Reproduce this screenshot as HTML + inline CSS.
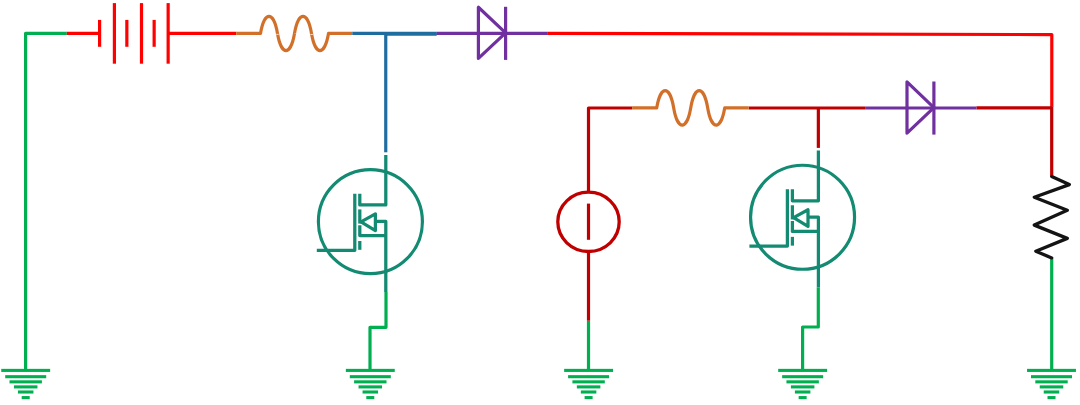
<!DOCTYPE html>
<html><head><meta charset="utf-8"><title>circuit</title>
<style>
html,body{margin:0;padding:0;background:#ffffff;width:1080px;height:405px;overflow:hidden;font-family:"Liberation Sans",sans-serif;}
svg{display:block}
</style></head><body>
<svg width="1080" height="405" viewBox="0 0 1080 405" fill="none">
<path d="M66.80,33.30 L25.60,33.30 L25.60,370.00" stroke="#00B050" stroke-width="3.2" stroke-linejoin="round" stroke-linecap="butt"/>
<rect x="1.25" y="368.85" width="48.90" height="3.1" fill="#00B050" stroke="none"/>
<rect x="5.20" y="375.15" width="41.00" height="3.1" fill="#00B050" stroke="none"/>
<rect x="9.50" y="380.30" width="32.40" height="3.1" fill="#00B050" stroke="none"/>
<rect x="13.95" y="385.35" width="23.50" height="3.1" fill="#00B050" stroke="none"/>
<rect x="17.95" y="390.45" width="15.50" height="3.1" fill="#00B050" stroke="none"/>
<rect x="21.70" y="396.05" width="8.00" height="3.1" fill="#00B050" stroke="none"/>
<path d="M386.00,291.90 L386.00,327.30 L370.00,327.30 L370.00,370.00" stroke="#00B050" stroke-width="3.2" stroke-linejoin="round" stroke-linecap="butt"/>
<rect x="345.85" y="368.85" width="48.90" height="3.1" fill="#00B050" stroke="none"/>
<rect x="349.80" y="375.15" width="41.00" height="3.1" fill="#00B050" stroke="none"/>
<rect x="354.10" y="380.30" width="32.40" height="3.1" fill="#00B050" stroke="none"/>
<rect x="358.55" y="385.35" width="23.50" height="3.1" fill="#00B050" stroke="none"/>
<rect x="362.55" y="390.45" width="15.50" height="3.1" fill="#00B050" stroke="none"/>
<rect x="366.30" y="396.05" width="8.00" height="3.1" fill="#00B050" stroke="none"/>
<path d="M588.50,320.70 L588.50,370.00" stroke="#00B050" stroke-width="3.2" stroke-linejoin="round" stroke-linecap="butt"/>
<rect x="564.15" y="368.85" width="48.90" height="3.1" fill="#00B050" stroke="none"/>
<rect x="568.10" y="375.15" width="41.00" height="3.1" fill="#00B050" stroke="none"/>
<rect x="572.40" y="380.30" width="32.40" height="3.1" fill="#00B050" stroke="none"/>
<rect x="576.85" y="385.35" width="23.50" height="3.1" fill="#00B050" stroke="none"/>
<rect x="580.85" y="390.45" width="15.50" height="3.1" fill="#00B050" stroke="none"/>
<rect x="584.60" y="396.05" width="8.00" height="3.1" fill="#00B050" stroke="none"/>
<path d="M818.30,287.50 L818.30,327.00 L802.60,327.00 L802.60,370.00" stroke="#00B050" stroke-width="3.2" stroke-linejoin="round" stroke-linecap="butt"/>
<rect x="778.20" y="368.85" width="48.90" height="3.1" fill="#00B050" stroke="none"/>
<rect x="782.15" y="375.15" width="41.00" height="3.1" fill="#00B050" stroke="none"/>
<rect x="786.45" y="380.30" width="32.40" height="3.1" fill="#00B050" stroke="none"/>
<rect x="790.90" y="385.35" width="23.50" height="3.1" fill="#00B050" stroke="none"/>
<rect x="794.90" y="390.45" width="15.50" height="3.1" fill="#00B050" stroke="none"/>
<rect x="798.65" y="396.05" width="8.00" height="3.1" fill="#00B050" stroke="none"/>
<path d="M1051.70,258.60 L1051.70,370.00" stroke="#00B050" stroke-width="3.2" stroke-linejoin="round" stroke-linecap="butt"/>
<rect x="1027.05" y="368.85" width="48.90" height="3.1" fill="#00B050" stroke="none"/>
<rect x="1031.00" y="375.15" width="41.00" height="3.1" fill="#00B050" stroke="none"/>
<rect x="1035.30" y="380.30" width="32.40" height="3.1" fill="#00B050" stroke="none"/>
<rect x="1039.75" y="385.35" width="23.50" height="3.1" fill="#00B050" stroke="none"/>
<rect x="1043.75" y="390.45" width="15.50" height="3.1" fill="#00B050" stroke="none"/>
<rect x="1047.50" y="396.05" width="8.00" height="3.1" fill="#00B050" stroke="none"/>
<path d="M66.80,33.30 L99.60,33.30" stroke="#FF0000" stroke-width="3.2" stroke-linejoin="round" stroke-linecap="butt"/>
<path d="M99.60,19.90 L99.60,46.80" stroke="#FF0000" stroke-width="3.2" stroke-linejoin="round" stroke-linecap="butt"/>
<path d="M126.85,19.90 L126.85,46.80" stroke="#FF0000" stroke-width="3.2" stroke-linejoin="round" stroke-linecap="butt"/>
<path d="M154.15,19.90 L154.15,46.80" stroke="#FF0000" stroke-width="3.2" stroke-linejoin="round" stroke-linecap="butt"/>
<path d="M114.40,3.10 L114.40,63.70" stroke="#FF0000" stroke-width="3.2" stroke-linejoin="round" stroke-linecap="butt"/>
<path d="M141.50,3.10 L141.50,63.70" stroke="#FF0000" stroke-width="3.2" stroke-linejoin="round" stroke-linecap="butt"/>
<path d="M168.15,3.10 L168.15,63.70" stroke="#FF0000" stroke-width="3.2" stroke-linejoin="round" stroke-linecap="butt"/>
<path d="M168.15,33.30 L236.20,33.30" stroke="#FF0000" stroke-width="3.2" stroke-linejoin="round" stroke-linecap="butt"/>
<path d="M547.90,33.30 L1051.80,34.60 L1051.80,106.70" stroke="#FF0000" stroke-width="3.2" stroke-linejoin="round" stroke-linecap="butt"/>
<path d="M236.20,33.45 L260.50,33.45 C264.41,10.65 273.59,10.65 277.50,33.45 C281.41,56.25 290.59,56.25 294.50,33.45 C298.41,10.65 307.59,10.65 311.50,33.45 C315.41,56.25 324.59,56.25 328.50,33.45 L352.30,33.45" stroke="#D2702A" stroke-width="3.2" stroke-linejoin="round" stroke-linecap="butt"/>
<rect x="276.30" y="33.85" width="2.4" height="0.95" fill="#ffffff" fill-opacity="0.8" stroke="none"/>
<rect x="294.30" y="33.15" width="2.4" height="0.95" fill="#ffffff" fill-opacity="0.3" stroke="none"/>
<rect x="310.40" y="33.95" width="2.4" height="0.95" fill="#ffffff" fill-opacity="0.8" stroke="none"/>
<path d="M352.30,33.30 L436.70,33.30" stroke="#1F6CA0" stroke-width="3.2" stroke-linejoin="round" stroke-linecap="butt"/>
<path d="M385.90,34.20 L436.70,34.20" stroke="#1F6CA0" stroke-width="3.2" stroke-linejoin="round" stroke-linecap="butt"/>
<path d="M385.75,33.30 L385.75,152.30" stroke="#1F6CA0" stroke-width="3.2" stroke-linejoin="round" stroke-linecap="butt"/>
<path d="M436.70,33.30 L547.90,33.30" stroke="#7030A0" stroke-width="3.2" stroke-linejoin="round" stroke-linecap="butt"/>
<path d="M478.40,7.25 L478.40,58.45 L505.60,32.85 Z" stroke="#7030A0" stroke-width="3.2" stroke-linejoin="round" stroke-linecap="butt"/>
<path d="M505.60,6.80 L505.60,59.90" stroke="#7030A0" stroke-width="3.2" stroke-linejoin="round" stroke-linecap="butt"/>
<path d="M632.10,108.00 L588.50,108.00 L588.50,192.20" stroke="#C00000" stroke-width="3.2" stroke-linejoin="round" stroke-linecap="butt"/>
<ellipse cx="588.5" cy="221.85" rx="30.7" ry="29.65" stroke="#C00000" stroke-width="3.3"/>
<path d="M588.50,203.60 L588.50,239.80" stroke="#C00000" stroke-width="3.2" stroke-linejoin="round" stroke-linecap="butt"/>
<path d="M588.50,251.50 L588.50,320.70" stroke="#C00000" stroke-width="3.2" stroke-linejoin="round" stroke-linecap="butt"/>
<path d="M748.70,108.00 L865.10,108.00" stroke="#C00000" stroke-width="3.2" stroke-linejoin="round" stroke-linecap="butt"/>
<path d="M818.35,108.00 L818.35,147.90" stroke="#C00000" stroke-width="3.2" stroke-linejoin="round" stroke-linecap="butt"/>
<path d="M976.40,107.80 L1051.70,107.80" stroke="#C00000" stroke-width="3.2" stroke-linejoin="round" stroke-linecap="butt"/>
<path d="M1051.70,106.40 L1051.70,175.80" stroke="#C00000" stroke-width="3.2" stroke-linejoin="round" stroke-linecap="butt"/>
<path d="M632.10,107.90 L656.70,107.90 C660.61,84.97 669.79,84.97 673.70,107.90 C677.61,130.83 686.79,130.83 690.70,107.90 C694.61,84.97 703.79,84.97 707.70,107.90 C711.61,130.83 720.79,130.83 724.70,107.90 L748.70,107.90" stroke="#D2702A" stroke-width="3.2" stroke-linejoin="round" stroke-linecap="butt"/>
<path d="M865.10,108.00 L976.40,108.00" stroke="#7030A0" stroke-width="3.2" stroke-linejoin="round" stroke-linecap="butt"/>
<path d="M907.00,81.95 L907.00,133.15 L933.90,107.55 Z" stroke="#7030A0" stroke-width="3.2" stroke-linejoin="round" stroke-linecap="butt"/>
<path d="M933.90,81.50 L933.90,134.60" stroke="#7030A0" stroke-width="3.2" stroke-linejoin="round" stroke-linecap="butt"/>
<path d="M1051.70,176.40 L1069.30,184.60 L1034.30,197.30 L1067.30,210.30 L1034.30,225.10 L1067.30,238.40 L1035.80,251.20 L1051.70,257.90" stroke="#141414" stroke-width="3.3" stroke-linejoin="round" stroke-linecap="round"/>
<circle cx="370.40" cy="221.70" r="52" stroke="#138A72" stroke-width="3.2"/>
<path d="M385.80,155.10 L385.80,204.90 L359.80,204.90 L359.80,193.80" stroke="#138A72" stroke-width="3.25" stroke-linejoin="round" stroke-linecap="butt"/>
<path d="M316.80,250.25 L354.80,250.25 L354.80,193.80" stroke="#138A72" stroke-width="3.25" stroke-linejoin="round" stroke-linecap="butt"/>
<path d="M359.80,209.40 L359.80,223.60" stroke="#138A72" stroke-width="3.25" stroke-linejoin="round" stroke-linecap="butt"/>
<path d="M359.80,225.20 L359.80,235.60 L385.80,235.60" stroke="#138A72" stroke-width="3.25" stroke-linejoin="round" stroke-linecap="butt"/>
<path d="M359.80,241.00 L359.80,249.80" stroke="#138A72" stroke-width="3.25" stroke-linejoin="round" stroke-linecap="butt"/>
<path d="M375.20,221.35 L385.80,221.35 L385.80,291.90" stroke="#138A72" stroke-width="3.25" stroke-linejoin="round" stroke-linecap="butt"/>
<path d="M361.00,221.80 L375.40,213.90 L375.40,230.60 Z" stroke="#138A72" stroke-width="3.25" stroke-linejoin="round" stroke-linecap="butt"/>
<circle cx="802.55" cy="217.25" r="52" stroke="#138A72" stroke-width="3.2"/>
<path d="M818.40,150.50 L818.40,200.75 L792.40,200.75 L792.40,189.20" stroke="#138A72" stroke-width="3.25" stroke-linejoin="round" stroke-linecap="butt"/>
<path d="M749.40,246.10 L787.40,246.10 L787.40,189.20" stroke="#138A72" stroke-width="3.25" stroke-linejoin="round" stroke-linecap="butt"/>
<path d="M792.40,205.25 L792.40,219.45" stroke="#138A72" stroke-width="3.25" stroke-linejoin="round" stroke-linecap="butt"/>
<path d="M792.40,221.05 L792.40,231.45 L818.40,231.45" stroke="#138A72" stroke-width="3.25" stroke-linejoin="round" stroke-linecap="butt"/>
<path d="M792.40,236.85 L792.40,245.65" stroke="#138A72" stroke-width="3.25" stroke-linejoin="round" stroke-linecap="butt"/>
<path d="M807.80,217.20 L818.40,217.20 L818.40,287.50" stroke="#138A72" stroke-width="3.25" stroke-linejoin="round" stroke-linecap="butt"/>
<path d="M793.60,217.65 L808.00,209.75 L808.00,226.45 Z" stroke="#138A72" stroke-width="3.25" stroke-linejoin="round" stroke-linecap="butt"/>
</svg>
</body></html>
